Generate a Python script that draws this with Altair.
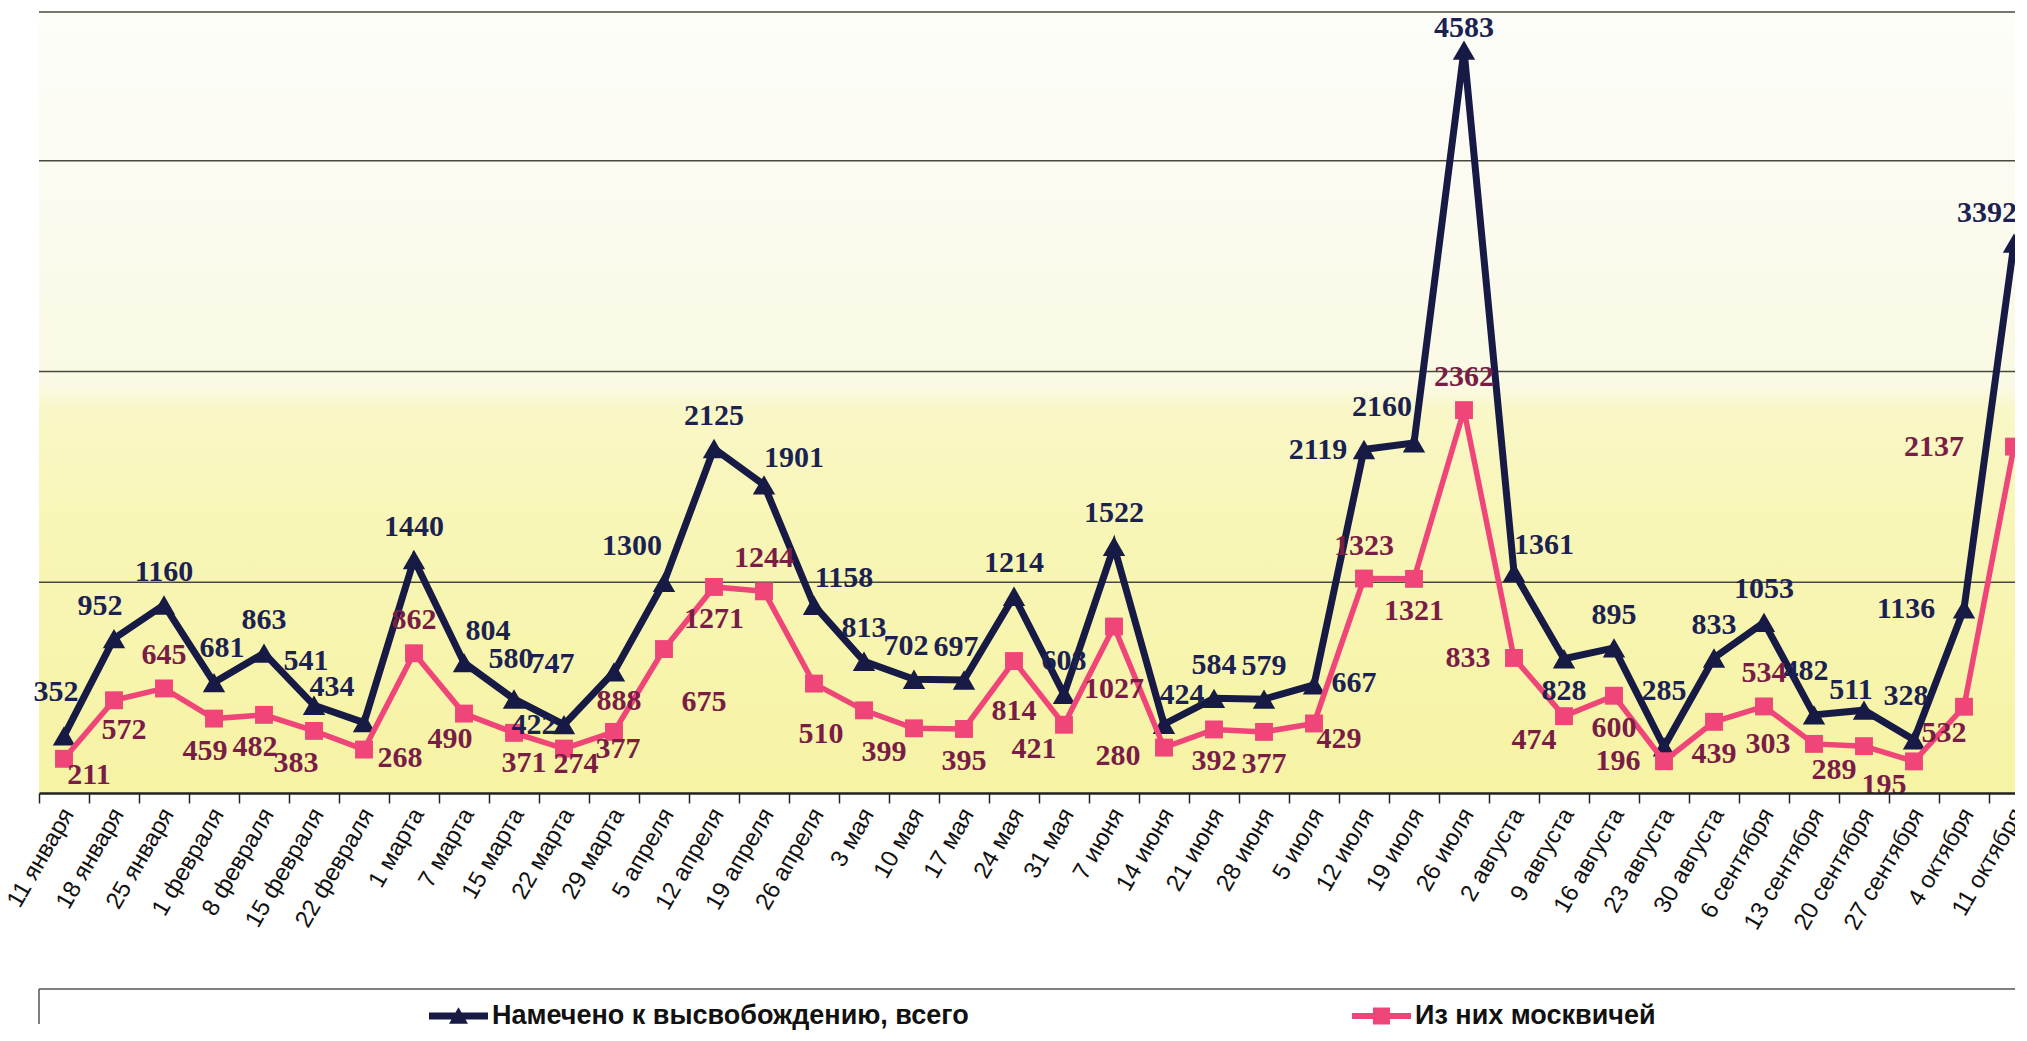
import altair as alt
import pandas as pd

# ---------------- data ----------------
dates = ["11 января", "18 января", "25 января", "1 февраля", "8 февраля", "15 февраля",
         "22 февраля", "1 марта", "7 марта", "15 марта", "22 марта", "29 марта",
         "5 апреля", "12 апреля", "19 апреля", "26 апреля", "3 мая", "10 мая", "17 мая",
         "24 мая", "31 мая", "7 июня", "14 июня", "21 июня", "28 июня", "5 июля",
         "12 июля", "19 июля", "26 июля", "2 августа", "9 августа", "16 августа",
         "23 августа", "30 августа", "6 сентября", "13 сентября", "20 сентября",
         "27 сентября", "4 октября", "11 октября"]

total = [352, 952, 1160, 681, 863, 541, 434, 1440, 804, 580, 422, 747, 1300, 2125,
         1901, 1158, 813, 702, 697, 1214, 608, 1522, 424, 584, 579, 667, 2119, 2160,
         4583, 1361, 828, 895, 285, 833, 1053, 482, 511, 328, 1136, 3392]

moscow = [211, 572, 645, 459, 482, 383, 268, 862, 490, 371, 274, 377, 888, 1271,
          1244, 675, 510, 399, 395, 814, 421, 1027, 280, 392, 377, 429, 1323, 1321,
          2362, 833, 474, 600, 196, 439, 534, 303, 289, 195, 532, 2137]

# label placement codes (layout only)
total_pos = ["tu", "tl1", "t", "tr1", "t", "tu", "tl", "t", "tr8", "t3", "l1", "ll1",
             "tl", "t", "tr", "tr", "t", "tlx", "tlx", "t", "t", "t", "tr2", "t", "t",
             "r", "l", "tl", "t1", "tr", "b", "t", "t2", "t", "t", "tu", "tly", "tu",
             "ll2", "tl3"]
moscow_pos = ["br", "b+", "t", "bm", "bm", "bq", "r8", "t", "bl4", "b+", "br2", "bs",
              "far", "b", "t", "far2", "bl2", "bl", "b", "b2", "bl", "b3", "lb", "b",
              "b", "br", "t", "b", "t", "l", "bl", "b", "l", "b", "t", "l", "bl", "bl",
              "bl3", "ll"]

SERIES_TOTAL = "Намечено к высвобождению, всего"
SERIES_MOSCOW = "Из них москвичей"

# ---------------- style ----------------
NAVY = "#161a45"
PINK = "#ef4579"
NAVY_TXT = "#1b2252"
PINK_TXT = "#7a1d46"

W, H = 1976, 781
X_RANGE = 2000
Y_MAX = 4818
GRID_VALUES = [1300, 2600, 3900, 4818]

OFFSETS = {
    "t": (0, -33), "t1": (0, -22), "t2": (0, -56), "t3": (-3, -40), "tu": (-8, -44),
    "tl": (-32, -36), "tl1": (-14, -33), "tlx": (-8, -33), "tly": (-13, -20),
    "tl3": (-27, -30), "tr": (30, -27), "tr8": (24, -32), "tr1": (8, -35),
    "tr2": (18, -29),
    "l": (-46, 0), "l1": (-30, 0), "ll1": (-62, -8),
    "ll2": (-58, 0), "ll": (-80, 0), "r": (40, -2), "r8": (36, 8), "lb": (-46, 8),
    "b": (0, 32), "b+": (10, 30), "bm": (-9, 32), "bs": (4, 17), "b2": (0, 50),
    "b3": (0, 62), "bl": (-30, 24), "bl2": (-43, 24), "bl3": (-20, 26),
    "bl4": (-14, 25), "bq": (-18, 32), "br": (25, 16), "br2": (12, 15),
    "far": (-45, 52), "far2": (-110, 18),
}

rows = []
for i, d in enumerate(dates):
    rows.append({"date": d, "series": SERIES_TOTAL, "value": total[i], "pos": total_pos[i]})
    rows.append({"date": d, "series": SERIES_MOSCOW, "value": moscow[i], "pos": moscow_pos[i]})
df = pd.DataFrame(rows)

x_enc = alt.X(
    "date:N", sort=dates,
    scale=alt.Scale(range=[0, X_RANGE], paddingInner=0, paddingOuter=0),
    axis=alt.Axis(title=None, tickBand="extent", labelAngle=-60, labelAlign="right",
                  labelBaseline="middle", labelFont="Liberation Sans", labelFontSize=24,
                  labelColor="#111111", labelPadding=7, labelOffset=4, labelOverlap=False,
                  domainColor="#222222", domainWidth=2.5, tickColor="#222222",
                  tickWidth=1.5, tickSize=10, grid=False, zindex=1),
)
y_enc = alt.Y(
    "value:Q",
    scale=alt.Scale(domain=[0, Y_MAX], nice=False, zero=True),
    axis=alt.Axis(title=None, labels=False, ticks=False, grid=False,
                  domainColor="#a0a0a0", domainWidth=2, zindex=1),
)

one = alt.Chart(pd.DataFrame({"k": [0]}))

background = one.mark_rect(
    fill=alt.LinearGradient(
        gradient="linear", x1=0, x2=0, y1=0, y2=1,
        stops=[
            alt.GradientStop(offset=0, color="#fdfdf9"),
            alt.GradientStop(offset=0.2, color="#fbfbf2"),
            alt.GradientStop(offset=0.48, color="#faf9e3"),
            alt.GradientStop(offset=0.51, color="#f9f7c6"),
            alt.GradientStop(offset=0.65, color="#f8f6b7"),
            alt.GradientStop(offset=1, color="#f6f3a4"),
        ],
    )
).encode(x=alt.value(0), x2=alt.value(X_RANGE), y=alt.value(0), y2=alt.value(H))

grid = alt.Chart(pd.DataFrame({"g": GRID_VALUES})).mark_rule(
    color="#4a4a3c", strokeWidth=1.5
).encode(y=alt.Y("g:Q", scale=alt.Scale(domain=[0, Y_MAX], nice=False, zero=True), axis=None))

base = alt.Chart(df)
is_total = alt.datum.series == SERIES_TOTAL
is_moscow = alt.datum.series == SERIES_MOSCOW

line_total = base.transform_filter(is_total).mark_line(
    color=NAVY, strokeWidth=7).encode(x=x_enc, y=y_enc)
pts_total = base.transform_filter(is_total).mark_point(
    shape="triangle-up", filled=True, size=500, color=NAVY, opacity=1).encode(x=x_enc, y=y_enc)
line_moscow = base.transform_filter(is_moscow).mark_line(
    color=PINK, strokeWidth=5.5).encode(x=x_enc, y=y_enc)
pts_moscow = base.transform_filter(is_moscow).mark_point(
    shape="square", filled=True, size=320, color=PINK, opacity=1).encode(x=x_enc, y=y_enc)

text_layers = []
for series, color, codes in [(SERIES_TOTAL, NAVY_TXT, total_pos),
                             (SERIES_MOSCOW, PINK_TXT, moscow_pos)]:
    for code in sorted(set(codes)):
        dx, dy = OFFSETS[code]
        text_layers.append(
            base.transform_filter((alt.datum.series == series) & (alt.datum.pos == code))
            .mark_text(dx=dx, dy=dy, font="Liberation Serif", fontWeight="bold",
                       fontSize=30, color=color, align="center", baseline="middle")
            .encode(x=x_enc, y=y_enc, text="value:Q")
        )

# legend carrier (invisible marks that only produce the legend)
PATH_TOTAL = "M-1,-0.12H1V0.12H-1Z M0,-0.3L0.32,0.26L-0.32,0.26Z"
PATH_MOSCOW = "M-1,-0.1H1V0.1H-1Z M-0.29,-0.29H0.29V0.29H-0.29Z"
legend = alt.Legend(title=None, orient="none", legendX=390, legendY=989,
                    direction="horizontal", symbolSize=3481, clipHeight=30,
                    labelFont="Liberation Sans", labelFontWeight="bold",
                    labelFontSize=27, labelColor="#111111", labelOffset=4,
                    labelLimit=1000, columnPadding=383, symbolStrokeWidth=0)
carrier = base.mark_point(filled=True, size=0, opacity=1).encode(
    x=x_enc, y=y_enc,
    color=alt.Color("series:N", scale=alt.Scale(domain=[SERIES_TOTAL, SERIES_MOSCOW],
                                                range=[NAVY, PINK]), legend=legend),
    shape=alt.Shape("series:N", scale=alt.Scale(domain=[SERIES_TOTAL, SERIES_MOSCOW],
                                                range=[PATH_TOTAL, PATH_MOSCOW]), legend=legend),
)

box_top = one.mark_rule(color="#555555", strokeWidth=1.5).encode(
    x=alt.value(0), x2=alt.value(X_RANGE), y=alt.value(977))
box_left = one.mark_rule(color="#555555", strokeWidth=1.5).encode(
    x=alt.value(0), y=alt.value(977), y2=alt.value(1012))

chart = alt.layer(
    background, grid, line_total, pts_total, line_moscow, pts_moscow,
    *text_layers, carrier, box_top, box_left
).properties(
    width=W, height=H,
    autosize=alt.AutoSizeParams(type="none"),
    padding={"left": 31, "top": 4, "right": 0, "bottom": 238},
    background="#ffffff",
).configure_view(stroke="transparent")

chart.save("out.html", embed_options={"renderer": "svg", "actions": False})
